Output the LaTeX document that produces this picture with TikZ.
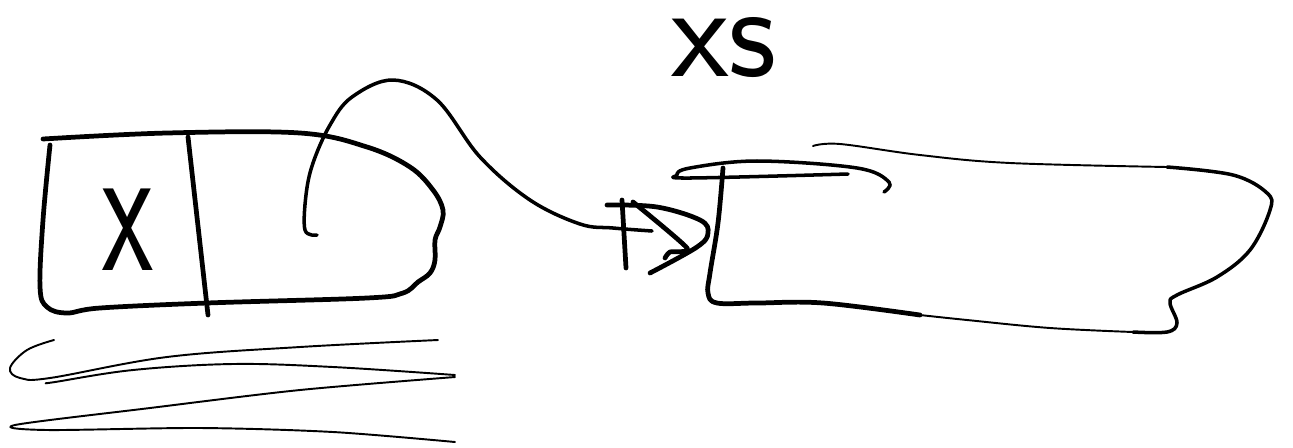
\documentclass[tikz,border=0pt]{standalone}
\usepackage{graphicx}
\usetikzlibrary{positioning}
\tikzset{pen/.style={line width=2.7pt,line cap=round,line join=round},
 thin/.style={line width=1.1pt,line cap=round,line join=round},
 mid/.style={line width=2pt,line cap=round,line join=round},
 hand/.style={inner sep=0pt,font=\sffamily}}

\begin{document}
\begin{tikzpicture}[x=0.02cm,y=-0.02cm]
\useasboundingbox (0,0) rectangle (1293,447);
\node[hand,font=\sffamily\fontsize{76}{76}\selectfont](title) at (724,48){xs};
\node[hand,font=\sffamily\fontsize{108}{108}\selectfont](lbl) at (128,230){\scalebox{0.62}[1]{x}};
\coordinate (src) at (317,235);\coordinate (tip) at (652,231);
\draw[pen] plot[smooth,tension=0.6] coordinates{(43,139)(167,133)(300,133)(367,147)(410,167)(433,190)(443,210)(440,227)(435,240)(435,260)(430,273)(418,282)(403,293)(367,298)(207,303)(100,308)(67,313)(47,307)(40,287)(43,220)(50,145)};
\draw[pen](188,137)--(208,315);
\draw[thin] plot[smooth,tension=0.6] coordinates{(54,340)(27,350)(10,368)(20,378)(50,378)(167,357)(300,347)(438,340)};
\draw[thin] plot[smooth,tension=0.6] coordinates{(47,383)(55,382)(133,370)(233,364)(333,367)(455,375)};
\draw[thin] plot[smooth,tension=0.5] coordinates{(455,377)(300,390)(150,408)(15,425)(47,430)(200,428)(333,432)(455,442)};
\draw[mid] plot[smooth,tension=0.6] coordinates{(src)(305,230)(306,195)(313,163)(330,125)(352,97)(393,80)(437,100)(480,157)(530,200)(580,224)(613,228)(tip)};
\draw[pen](622,200)--(626,268);
\draw[pen] plot[smooth,tension=0.6] coordinates{(607,205)(657,207)(700,220)(708,233)(697,247)(650,273)};
\draw[pen] plot[smooth,tension=0.4] coordinates{(633,202)(687,248)(670,252)(665,258)};
\draw[mid] plot[smooth,tension=0.6] coordinates{(884,192)(889,182)(857,168)(757,161)(690,168)(677,175)(690,178)(848,174)};
\draw[pen] plot[smooth,tension=0.6] coordinates{(723,168)(718,223)(710,273)(708,293)(717,303)(757,303)(823,303)(920,315)};
\draw[thin] plot[smooth,tension=0.6] coordinates{(813,146)(840,144)(920,155)(1010,163)(1167,167)};
\draw[mid] plot[smooth,tension=0.6] coordinates{(1167,167)(1233,175)(1267,193)(1270,210)(1250,250)(1217,277)(1177,295)(1170,303)(1177,323)(1167,332)(1133,332)};
\draw[thin] plot[smooth,tension=0.6] coordinates{(1133,332)(1050,328)(967,320)(920,315)};
\end{tikzpicture}
\end{document}
